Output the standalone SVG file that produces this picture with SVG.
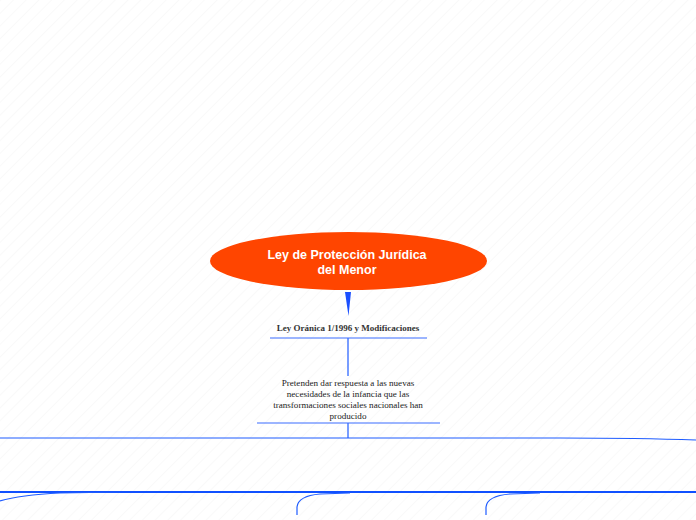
<svg xmlns="http://www.w3.org/2000/svg" width="696" height="520" viewBox="0 0 696 520">
<defs>
<pattern id="hatch" patternUnits="userSpaceOnUse" width="9" height="9" patternTransform="rotate(45)">
<rect width="9" height="9" fill="#ffffff"/>
<line x1="0" y1="0" x2="0" y2="9" stroke="#f4f4f4" stroke-width="1"/>
</pattern>
<style>
.conn{fill:none;stroke:#1f5cff;stroke-width:1.2}
.thick{fill:none;stroke:#1050ff;stroke-width:2}
.ul{stroke:#3a6cff;stroke-width:1.2}
.t{font-family:"Liberation Serif","Times New Roman",serif;font-size:9.1px;fill:#222;text-anchor:middle}
.tb{font-family:"Liberation Serif","Times New Roman",serif;font-size:9px;font-weight:bold;fill:#333;text-anchor:middle}
.title{font-family:"Liberation Sans",Arial,sans-serif;font-size:12.5px;font-weight:bold;fill:#ffffff;text-anchor:middle}
</style>
</defs>
<rect width="696" height="520" fill="url(#hatch)"/>
<g id="connectors">
<polygon points="345,292 351,292 348.5,316" fill="#1a4fff"/>
<line class="conn" x1="348" y1="338" x2="348" y2="376"/>
<line class="conn" x1="348" y1="423" x2="348" y2="438"/>
<path class="conn" d="M0,438 L560,438 Q640,438 696,440"/>
<line class="thick" x1="0" y1="492" x2="696" y2="492"/>
<path class="conn" d="M0,501 Q20,495 60,493 L120,492"/>
<path class="conn" d="M297,515 L297,507 Q298,496 320,494 L350,493"/>
<path class="conn" d="M486,515 L486,507 Q487,496 510,494 L540,493"/>
</g>
<g id="root">
<ellipse cx="348.5" cy="261" rx="138.5" ry="29" fill="#ff4500"/>
<text class="title" x="347" y="259">Ley de Protección Jurídica</text>
<text class="title" x="347" y="274">del Menor</text>
</g>
<g id="node-ley">
<text class="tb" x="348" y="331">Ley Oránica 1/1996 y Modificaciones</text>
<line class="ul" x1="270" y1="338" x2="427" y2="338"/>
</g>
<g id="node-pretenden">
<text class="t" x="348" y="386">Pretenden dar respuesta a las nuevas</text>
<text class="t" x="348" y="397">necesidades de la infancia que las</text>
<text class="t" x="348" y="408">transformaciones sociales nacionales han</text>
<text class="t" x="348" y="419">producido</text>
<line class="ul" x1="257" y1="423" x2="440" y2="423"/>
</g>
</svg>
